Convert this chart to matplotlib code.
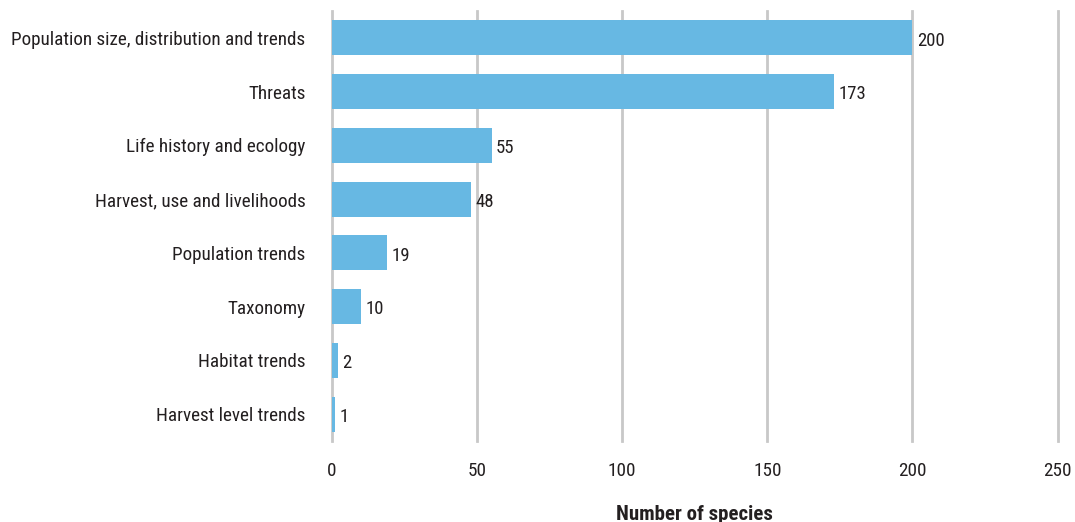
import matplotlib
matplotlib.use("Agg")
import matplotlib.pyplot as plt

categories = ["Population size, distribution and trends", "Threats",
              "Life history and ecology", "Harvest, use and livelihoods",
              "Population trends", "Taxonomy", "Habitat trends",
              "Harvest level trends"]
counts = [200, 173, 55, 48, 19, 10, 2, 1]
xticks = [0, 50, 100, 150, 200, 250]

plt.rcParams['font.family'] = ['Roboto Condensed', 'Liberation Sans']
txt = '#231f20'

fig = plt.figure(figsize=(10.75, 5.22), dpi=100)
ax = fig.add_axes([0.3088, 0.155, 0.675, 0.824])

y = list(range(len(categories)))
ax.barh(y, counts, height=0.65, color='#67b8e3', zorder=3)
for yi, v in zip(y, counts):
    ax.text(v + 1.5, yi + 0.05, str(v), va='center', ha='left', fontsize=13.5, color=txt)

ax.set_xlim(0, 250)
ax.set_ylim(len(categories) - 0.5, -0.5)
ax.set_yticks(y)
ax.set_yticklabels(categories, fontsize=13.8, color=txt)
ax.set_xticks(xticks)
ax.set_xticklabels([str(t) for t in xticks], fontsize=13.8, color=txt)
ax.tick_params(axis='both', length=0)
ax.tick_params(axis='y', pad=19)
ax.tick_params(axis='x', pad=15)
ax.grid(axis='x', color='#c8c8c8', linewidth=2, zorder=0)
for gl in ax.get_xgridlines():
    gl.set_clip_on(False)
for s in ax.spines.values():
    s.set_visible(False)
ax.set_xlabel("Number of species", fontsize=15, fontweight='bold', color=txt, labelpad=18)

fig.savefig("out.png", dpi=100)
